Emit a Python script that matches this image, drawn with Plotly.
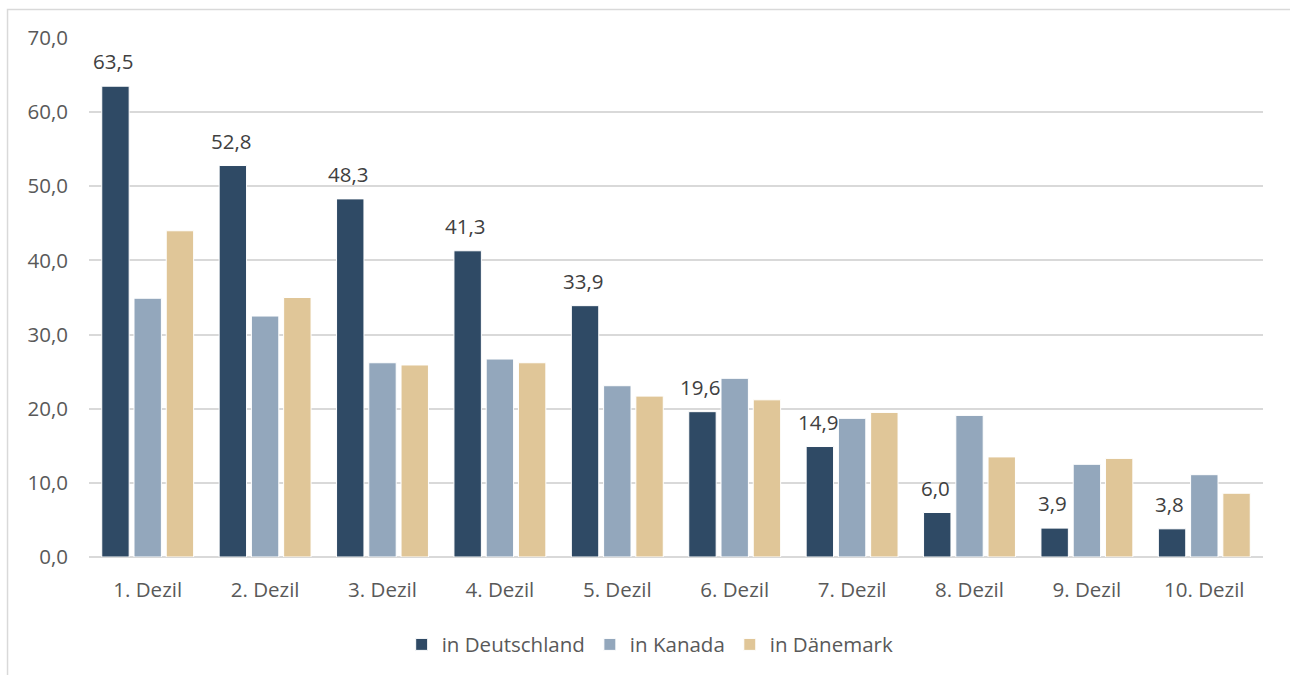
import plotly.graph_objects as go

# Einkommensdezile und Werte je Land
dezile = ["1. Dezil", "2. Dezil", "3. Dezil", "4. Dezil", "5. Dezil",
          "6. Dezil", "7. Dezil", "8. Dezil", "9. Dezil", "10. Dezil"]
deutschland = [63.5, 52.8, 48.3, 41.3, 33.9, 19.6, 14.9, 6.0, 3.9, 3.8]
kanada = [34.9, 32.5, 26.2, 26.7, 23.1, 24.1, 18.7, 19.1, 12.5, 11.1]
daenemark = [44.0, 35.0, 25.9, 26.2, 21.7, 21.2, 19.5, 13.5, 13.3, 8.6]

y_ticks = [0, 10, 20, 30, 40, 50, 60, 70]

FONT = "Open Sans"
FS = 20.5
TEXT_GREY = "#595959"
LABEL_GREY = "#404040"
GRID = "#D9D9D9"

fig = go.Figure()
series = [
    ("in Deutschland", deutschland, "#2F4A65"),
    ("in Kanada", kanada, "#93A7BC"),
    ("in Dänemark", daenemark, "#E0C698"),
]
for name, vals, color in series:
    fig.add_trace(go.Bar(
        x=dezile, y=vals, name=name,
        marker=dict(color=color, line=dict(color="white", width=1)),
        hoverinfo="x+y+name",
    ))

# Wertbeschriftungen über den Deutschland-Balken
for cat, v in zip(dezile, deutschland):
    fig.add_annotation(
        x=cat, y=v, text=f"{v:.1f}".replace(".", ","),
        showarrow=False, xanchor="center", yanchor="middle",
        xshift=-34.5, yshift=25,
        font=dict(family=FONT, size=FS, color=LABEL_GREY),
    )

# Rahmen des Diagrammbereichs
fig.add_shape(
    type="rect", xref="paper", yref="paper",
    x0=-0.0694, x1=1.03, y0=-0.24, y1=1.0549,
    line=dict(color=GRID, width=1.5), fillcolor="rgba(0,0,0,0)",
    layer="below",
)

fig.update_layout(
    width=1290, height=675,
    margin=dict(l=89, r=27, t=38, b=117, pad=0),
    paper_bgcolor="white", plot_bgcolor="white",
    barmode="group", bargap=0.176, bargroupgap=0.15,
    separators=",.",
    font=dict(family=FONT, size=FS, color=TEXT_GREY),
    showlegend=True,
    legend=dict(
        orientation="h", x=0.478, xanchor="center", y=-0.128, yanchor="top",
        font=dict(family=FONT, size=FS, color=TEXT_GREY),
        itemwidth=30, traceorder="normal",
    ),
    xaxis=dict(
        showgrid=False, showline=False, ticks="",
        tickfont=dict(family=FONT, size=FS, color=TEXT_GREY),
        ticklabelstandoff=18,
    ),
    yaxis=dict(
        range=[0, 70], tickvals=y_ticks, tickformat=".1f",
        showgrid=True, gridcolor=GRID, gridwidth=1.5,
        zeroline=True, zerolinecolor=GRID, zerolinewidth=1.5,
        showline=False, ticks="",
        tickfont=dict(family=FONT, size=FS, color=TEXT_GREY),
        ticklabelstandoff=20,
    ),
)

fig.write_html("out.html")
